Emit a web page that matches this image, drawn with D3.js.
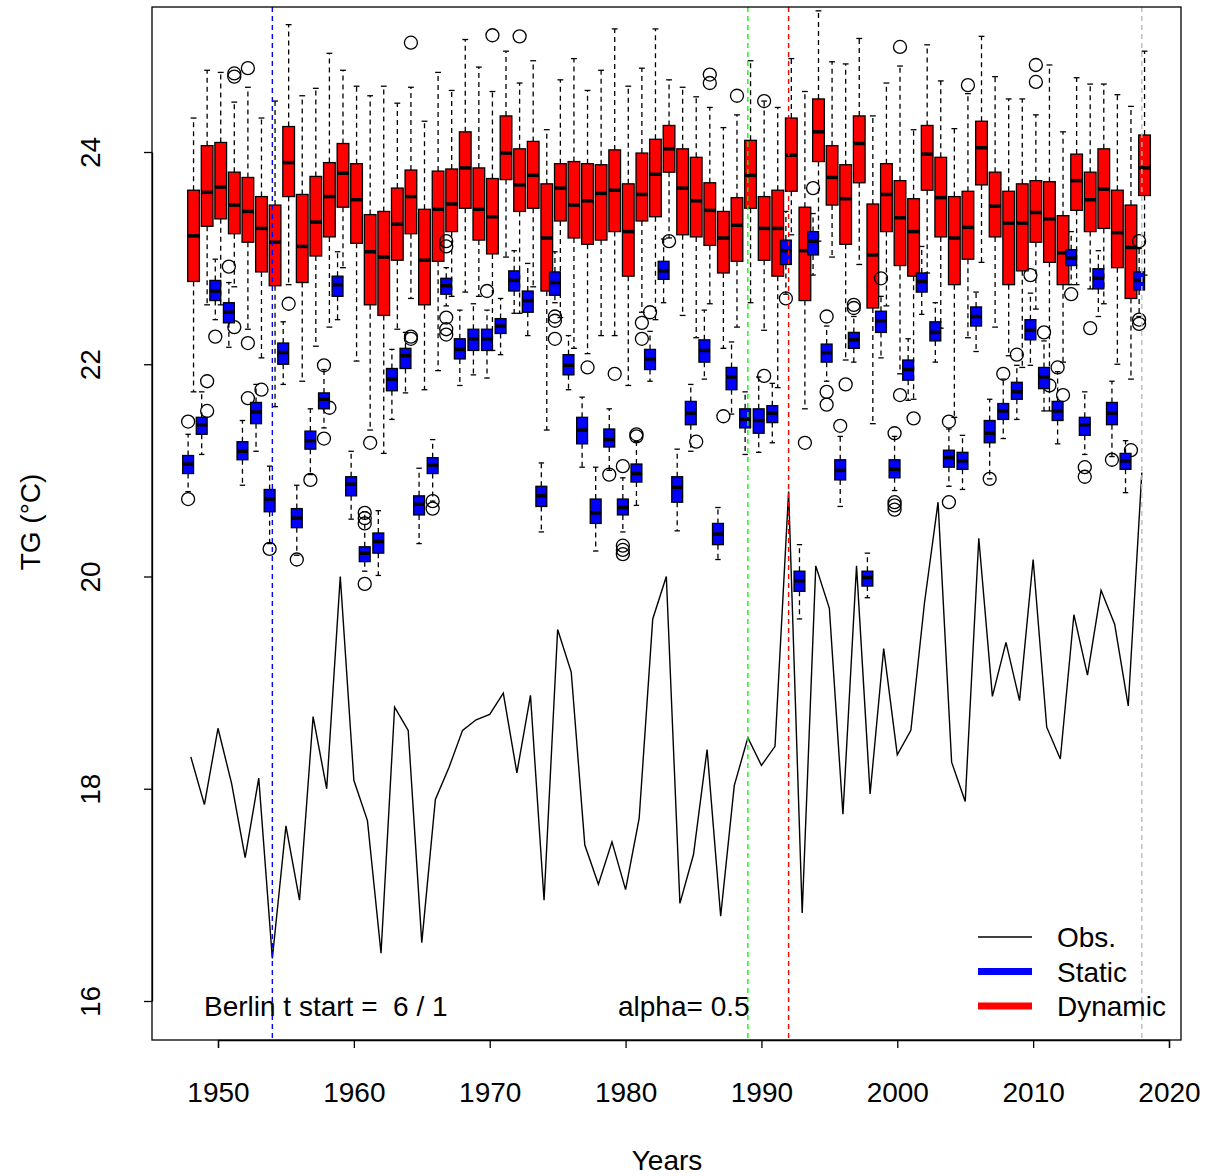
<!DOCTYPE html>
<html>
<head>
<meta charset="utf-8">
<script src="https://cdn.jsdelivr.net/npm/d3@7"></script>
<style>body{margin:0;background:#fff}svg{font-family:"Liberation Sans",Arial,sans-serif}</style>
</head>
<body>
<svg id="chart"></svg>
<script>
const years = d3.range(1948, 2019);
const obs = [18.3,17.85,18.57,18.05,17.35,18.1,16.4,17.65,16.95,18.68,18.0,20.0,18.08,17.7,16.45,18.77,18.55,16.55,17.9,18.2,18.55,18.65,18.7,18.9,18.15,18.88,16.95,19.5,19.1,17.47,17.1,17.5,17.05,17.72,19.6,20.0,16.92,17.38,18.37,16.8,18.03,18.48,18.22,18.4,20.8,16.83,20.1,19.7,17.76,20.1,17.95,19.32,18.32,18.55,19.75,20.7,18.25,17.88,20.36,18.87,19.38,18.83,20.16,18.58,18.28,19.64,19.07,19.87,19.55,18.78,20.98];

// Dynamic (red) boxes
const redQ3 = [23.64,24.06,24.09,23.81,23.76,23.58,23.50,24.24,23.60,23.77,23.90,24.08,23.89,23.41,23.44,23.66,23.83,23.46,23.82,23.84,24.19,23.85,23.75,24.34,24.03,24.10,23.70,23.89,23.91,23.89,23.88,24.02,23.70,23.99,24.12,24.25,24.03,23.95,23.71,23.44,23.57,24.11,23.58,23.64,24.32,23.48,24.50,24.06,23.88,24.34,23.51,23.89,23.73,23.56,24.25,23.95,23.58,23.63,24.29,23.81,23.63,23.70,23.73,23.72,23.40,23.98,23.81,24.03,23.64,23.50,24.16];
const redMed = [23.21,23.62,23.67,23.50,23.44,23.28,23.15,23.90,23.11,23.34,23.58,23.80,23.55,23.06,23.01,23.32,23.58,22.98,23.46,23.51,23.85,23.46,23.39,23.99,23.69,23.78,23.19,23.66,23.50,23.54,23.61,23.64,23.25,23.60,23.79,24.03,23.66,23.54,23.45,23.19,23.31,23.78,23.28,23.28,23.97,23.07,24.19,23.76,23.56,24.08,23.03,23.60,23.38,23.25,23.98,23.57,23.19,23.29,24.04,23.49,23.33,23.33,23.43,23.37,23.05,23.73,23.55,23.65,23.24,23.10,23.85];
const redQ1 = [22.78,23.30,23.37,23.23,23.15,22.87,22.74,23.58,22.77,23.02,23.20,23.48,23.14,22.56,22.46,22.98,23.23,22.56,22.97,23.25,23.47,23.17,23.04,23.74,23.44,23.47,22.69,23.35,23.19,23.13,23.17,23.25,22.83,23.35,23.39,23.81,23.22,23.20,23.12,22.86,22.97,23.47,22.98,22.83,23.63,22.60,23.91,23.50,23.13,23.71,22.53,23.25,22.93,22.83,23.64,23.20,22.75,22.99,23.69,23.20,22.75,22.88,23.15,22.96,22.75,23.45,23.25,23.28,22.91,22.62,23.59];
const redHi = [24.32,24.77,24.75,24.47,24.61,24.32,24.48,25.20,24.53,24.60,24.93,24.77,24.62,24.53,24.62,24.46,24.61,24.29,24.75,24.58,25.06,24.80,24.57,24.95,24.65,24.86,24.21,24.68,24.88,24.58,24.77,25.16,24.62,24.79,25.16,24.68,24.61,24.52,24.42,24.23,24.35,24.86,24.48,24.42,24.88,24.57,25.33,24.85,24.83,25.07,24.34,24.65,24.81,24.21,25.01,24.67,24.22,24.55,25.09,24.71,24.50,24.50,24.35,24.82,24.19,24.70,24.64,24.64,24.54,24.43,24.95];
const redLo = [21.74,22.56,22.56,22.73,22.33,22.06,21.60,22.75,21.84,22.17,22.35,22.91,22.03,21.38,21.16,22.33,22.62,21.76,21.94,22.64,22.68,22.64,22.13,23.01,22.48,22.73,21.38,22.44,22.15,22.10,22.27,22.27,21.80,22.49,22.42,23.19,22.46,22.25,22.57,22.15,22.35,22.58,22.32,21.78,23.22,21.58,23.16,23.01,22.04,22.94,21.44,22.55,21.91,21.67,22.86,22.34,21.50,22.25,22.96,22.35,22.08,21.97,22.52,21.56,22.02,22.75,22.71,22.57,22.00,21.86,22.84];
const redOut = [[1949,21.84],[1949,21.56],[1951,24.74],[1951,24.71],[1951,22.35],[1952,24.79],[1952,22.2],[1952,21.68],[1953,21.76],[1955,22.57],[1958,21.59],[1961,21.26],[1964,25.03],[1964,22.26],[1964,22.24],[1970,25.10],[1972,25.09],[1977,21.97],[1979,21.91],[1981,22.39],[1981,22.24],[1983,23.16],[1985,21.27],[1986,24.73],[1986,24.65],[1988,24.53],[1987,21.51],[1990,24.48],[1990,21.89],[1993,21.26],[1996,21.81],[2000,24.99],[2000,21.71],[2001,21.49],[2005,24.63],[2010,24.82],[2010,24.66],[2011,21.80],[2012,21.71],[2014,22.34],[2017,21.19]];

// Static (blue) boxes
const blueQ3 = [21.14,21.50,22.79,22.58,21.27,21.64,20.82,22.20,20.64,21.37,21.73,22.83,20.94,20.28,20.41,21.96,22.15,20.76,21.12,22.81,22.24,22.33,22.33,22.43,22.88,22.69,20.85,22.87,22.09,21.50,20.73,21.39,20.73,21.06,22.14,22.97,20.94,21.65,22.23,20.50,21.97,21.58,21.58,21.61,23.17,20.05,23.25,22.19,21.10,22.30,20.05,22.50,21.10,22.04,22.86,22.40,21.19,21.17,22.54,21.47,21.63,21.83,22.42,21.97,21.65,23.08,21.50,22.90,21.64,21.16,22.87];
const blueMed = [21.06,21.43,22.69,22.49,21.18,21.55,20.73,22.11,20.55,21.28,21.67,22.75,20.87,20.22,20.33,21.86,22.08,20.68,21.05,22.74,22.14,22.24,22.24,22.36,22.79,22.60,20.76,22.77,21.99,21.38,20.60,21.29,20.65,20.97,22.05,22.88,20.84,21.54,22.13,20.40,21.88,21.48,21.47,21.54,23.07,19.96,23.16,22.11,21.00,22.23,19.99,22.41,21.01,21.95,22.78,22.30,21.12,21.09,22.45,21.35,21.56,21.74,22.32,21.88,21.56,23.00,21.43,22.81,21.54,21.09,22.79];
const blueQ1 = [20.97,21.34,22.60,22.39,21.10,21.44,20.61,22.00,20.46,21.20,21.58,22.64,20.76,20.14,20.22,21.75,21.96,20.58,20.97,22.66,22.05,22.13,22.13,22.29,22.69,22.49,20.66,22.65,21.90,21.25,20.50,21.22,20.58,20.89,21.95,22.80,20.70,21.43,22.02,20.30,21.76,21.40,21.35,21.45,22.94,19.86,23.03,22.02,20.91,22.15,19.91,22.30,20.93,21.85,22.68,22.22,21.03,21.01,22.36,21.26,21.48,21.67,22.23,21.77,21.47,22.93,21.33,22.71,21.43,21.01,22.70];
const blueHi = [21.34,21.74,22.99,22.77,21.47,21.81,21.04,22.40,20.86,21.58,21.95,23.06,21.18,20.61,20.62,22.14,22.30,21.02,21.29,22.91,22.51,22.57,22.51,22.62,23.07,22.95,21.07,23.06,22.27,21.69,21.03,21.58,20.93,21.27,22.31,23.18,21.20,21.81,22.51,20.65,22.21,21.74,21.88,21.82,23.44,20.30,23.42,22.36,21.32,22.45,20.22,22.64,21.32,22.24,23.11,22.58,21.39,21.33,22.68,21.67,21.86,21.99,22.67,22.22,21.93,23.25,21.74,23.07,21.84,21.28,23.09];
const blueLo = [20.80,21.15,22.42,22.16,20.86,21.18,20.31,21.81,20.20,20.96,21.40,22.42,20.54,20.05,20.01,21.48,21.73,20.31,20.71,22.55,21.80,21.90,21.87,22.09,22.48,22.27,20.42,22.58,21.76,21.03,20.24,21.00,20.42,20.67,21.84,22.58,20.43,21.18,21.86,20.16,21.53,21.15,21.17,21.26,22.66,19.60,22.84,21.84,20.66,22.02,19.80,22.06,20.81,21.66,22.47,22.02,20.85,20.82,22.12,20.92,21.30,21.48,21.99,21.56,21.25,22.75,21.15,22.45,21.13,20.79,22.45];
const blueOut = [[1948,21.46],[1948,20.73],[1950,22.26],[1951,22.92],[1954,20.26],[1956,20.16],[1957,20.91],[1958,21.99],[1958,21.30],[1961,20.60],[1961,20.55],[1961,20.50],[1961,19.93],[1966,20.71],[1966,20.64],[1967,23.16],[1967,23.11],[1967,22.44],[1967,22.33],[1967,22.28],[1970,22.69],[1975,22.45],[1975,22.41],[1975,22.24],[1979,20.96],[1980,21.04],[1980,20.29],[1980,20.25],[1980,20.21],[1981,21.34],[1981,21.32],[1982,22.49],[1992,22.62],[1994,23.66],[1995,22.45],[1995,21.74],[1995,21.62],[1996,21.42],[1997,22.56],[1997,22.53],[1999,22.81],[2000,21.35],[2000,20.70],[2000,20.67],[2000,20.63],[2004,21.46],[2004,20.70],[2007,20.92],[2008,21.91],[2009,22.09],[2010,22.84],[2011,22.30],[2012,21.97],[2013,22.66],[2014,21.03],[2014,20.94],[2016,21.10],[2018,23.16],[2018,22.42],[2018,22.38]];

const vlines = [[1954,'#0000ff'],[1989,'#00ff00'],[1992,'#ff0000'],[2018,'#bebebe']];
const xTicks = [1950,1960,1970,1980,1990,2000,2010,2020];
const yTicks = [16,18,20,22,24];

const W = 1212, H = 1176, FS = '28px';
const frame = {left: 152, right: 1181, top: 7, bottom: 1040};
const svg = d3.select('#chart').attr('width', W).attr('height', H);
const x = d3.scaleLinear().domain([1950, 2020]).range([218, 1169]);
const y = d3.scaleLinear().domain([16, 24]).range([1001, 152]);

// observed series
svg.append('path')
  .attr('d', d3.line().x((d, i) => x(years[i])).y(d => y(d))(obs))
  .attr('fill', 'none').attr('stroke', '#000').attr('stroke-width', 1.4);

function boxes(fill, off, wid, q1, med, q3, lo, hi, out) {
  const g = svg.append('g');
  years.forEach((yr, i) => {
    const cx = x(yr + off), hw = (x(wid) - x(0)) / 2;
    g.append('line').attr('x1', cx).attr('x2', cx).attr('y1', y(q3[i])).attr('y2', y(hi[i]))
      .attr('stroke', '#000').attr('stroke-width', 1.3).attr('stroke-dasharray', '5,4');
    g.append('line').attr('x1', cx).attr('x2', cx).attr('y1', y(q1[i])).attr('y2', y(lo[i]))
      .attr('stroke', '#000').attr('stroke-width', 1.3).attr('stroke-dasharray', '5,4');
    [hi[i], lo[i]].forEach(v => g.append('line').attr('x1', cx - hw / 2).attr('x2', cx + hw / 2)
      .attr('y1', y(v)).attr('y2', y(v)).attr('stroke', '#000').attr('stroke-width', 1.3));
    g.append('rect').attr('x', cx - hw).attr('width', 2 * hw)
      .attr('y', y(q3[i])).attr('height', y(q1[i]) - y(q3[i]))
      .attr('fill', fill).attr('stroke', '#000').attr('stroke-width', 1.3);
    g.append('line').attr('x1', cx - hw).attr('x2', cx + hw).attr('y1', y(med[i])).attr('y2', y(med[i]))
      .attr('stroke', '#000').attr('stroke-width', 3.5);
  });
  out.forEach(([yr, v]) => g.append('circle').attr('cx', x(yr + off)).attr('cy', y(v)).attr('r', 6.5)
    .attr('fill', 'none').attr('stroke', '#000').attr('stroke-width', 1.3));
}
boxes('#ff0000', 0.2, 0.86, redQ1, redMed, redQ3, redLo, redHi, redOut);
boxes('#0000ff', -0.2, 0.8, blueQ1, blueMed, blueQ3, blueLo, blueHi, blueOut);

vlines.forEach(([yr, c]) => svg.append('line').attr('x1', x(yr)).attr('x2', x(yr))
  .attr('y1', frame.top).attr('y2', frame.bottom).attr('stroke', c).attr('stroke-width', 1.4)
  .attr('stroke-dasharray', '5,4'));

// frame
svg.append('rect').attr('x', frame.left).attr('y', frame.top)
  .attr('width', frame.right - frame.left).attr('height', frame.bottom - frame.top)
  .attr('fill', 'none').attr('stroke', '#000').attr('stroke-width', 1.3);

// axes
const xa = svg.append('g').attr('transform', `translate(0,${frame.bottom})`)
  .call(d3.axisBottom(x).tickValues(xTicks).tickFormat(d3.format('d')).tickSize(8).tickPadding(34));
xa.selectAll('text').style('font-size', FS).attr('fill', '#000');
xa.select('.domain').attr('stroke-width', 1.3);
xa.selectAll('.tick line').attr('stroke-width', 1.3);

const ya = svg.append('g').attr('transform', `translate(${frame.left},0)`)
  .call(d3.axisLeft(y).tickValues(yTicks).tickSize(8).tickSizeOuter(0));
ya.selectAll('.tick text').attr('x', 0).attr('dy', 0)
  .attr('transform', 'translate(-52,0) rotate(-90)').attr('text-anchor', 'middle')
  .style('font-size', FS).attr('fill', '#000');
ya.select('.domain').attr('stroke-width', 1.3);
ya.selectAll('.tick line').attr('stroke-width', 1.3);

svg.append('text').attr('x', 667).attr('y', 1170).attr('text-anchor', 'middle')
  .style('font-size', FS).text('Years');
svg.append('text').attr('transform', 'translate(40,522) rotate(-90)').attr('text-anchor', 'middle')
  .style('font-size', FS).text('TG (°C)');

svg.append('text').attr('x', 204).attr('y', 1016).style('font-size', FS)
  .style('white-space', 'pre').text('Berlin t start =  6 / 1');
svg.append('text').attr('x', 618).attr('y', 1016).style('font-size', FS).text('alpha= 0.5');

// legend
const legend = [['Obs.', '#000', 1.4], ['Static', '#0000ff', 7], ['Dynamic', '#ff0000', 7]];
legend.forEach(([t, c, w], i) => {
  const ly = 937 + i * 34.5;
  svg.append('line').attr('x1', 978).attr('x2', 1032).attr('y1', ly).attr('y2', ly)
    .attr('stroke', c).attr('stroke-width', w);
  svg.append('text').attr('x', 1057).attr('y', ly + 10).style('font-size', FS).text(t);
});
</script>
</body>
</html>
